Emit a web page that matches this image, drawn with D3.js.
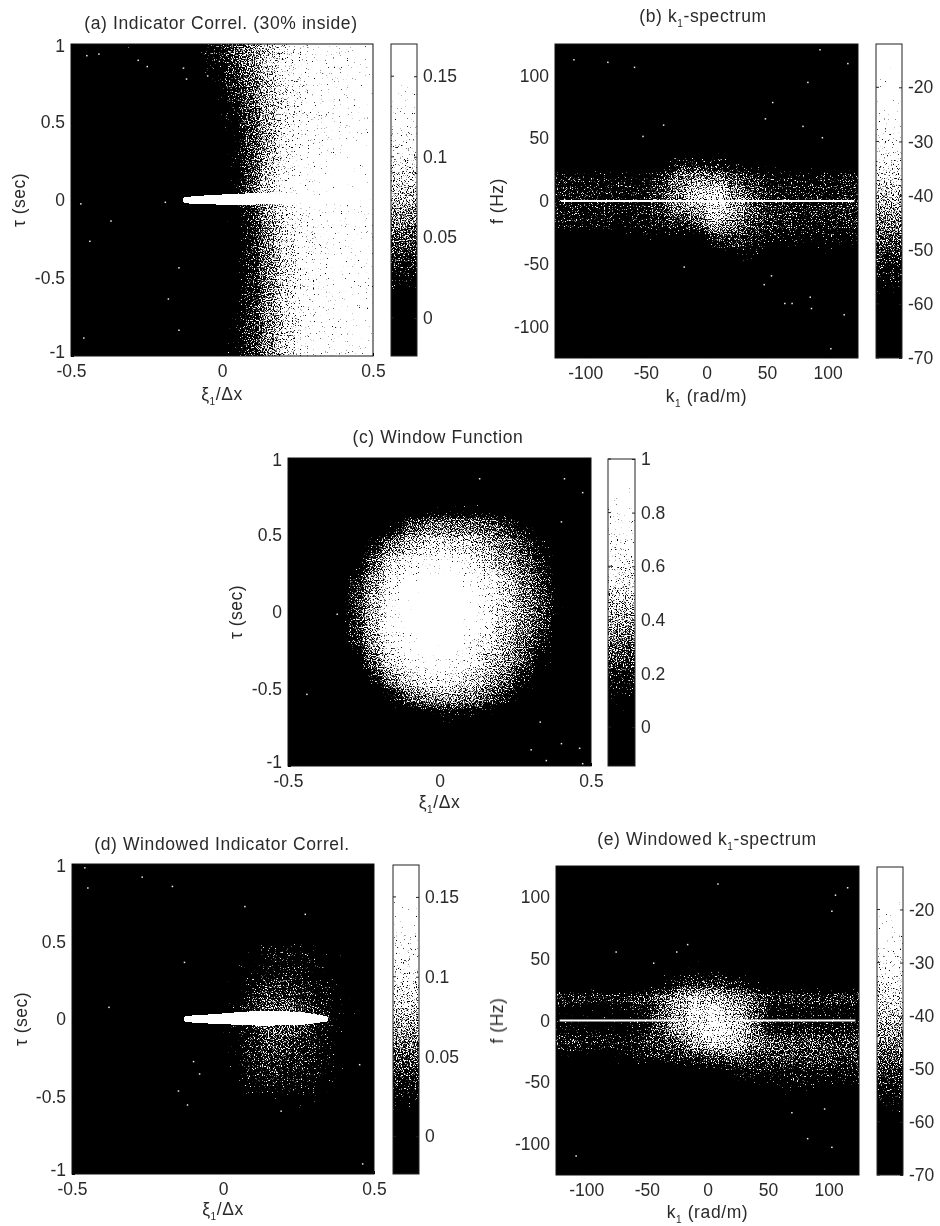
<!DOCTYPE html>
<html>
<head>
<meta charset="utf-8">
<script src="https://cdn.jsdelivr.net/npm/d3@7"></script>
<style>
  html, body { margin: 0; background: #fff; }
  text { font-family: "Liberation Sans", Arial, sans-serif; fill: #2a2a2a; }
  .screen { mix-blend-mode: screen; }
</style>
</head>
<body>
<svg id="fig" width="940" height="1226"></svg>
<script>
// axis ticks
const xiTicks = [-0.5, 0, 0.5]
const tauTicks = [-1, -0.5, 0, 0.5, 1]
const kTicks = [-100, -50, 0, 50, 100]
const fTicks = [-100, -50, 0, 50, 100]
const corrBarTicks = [0, 0.05, 0.1, 0.15]
const specBarTicks = [-70, -60, -50, -40, -30, -20]
const winBarTicks = [0, 0.2, 0.4, 0.6, 0.8, 1]

// cell centres
const xiCols = [-0.469, -0.406, -0.344, -0.281, -0.219, -0.156, -0.094, -0.031, 0.031, 0.094, 0.156, 0.219, 0.281, 0.344, 0.406, 0.469]
const tauRows = [0.94, 0.81, 0.69, 0.56, 0.44, 0.31, 0.19, 0.06, -0.06, -0.19, -0.31, -0.44, -0.56, -0.69, -0.81, -0.94]
const kCols = [-117, -102, -86, -70, -55, -39, -23, -8, 8, 23, 39, 55, 70, 86, 102, 117]
const fRows = [119, 106, 94, 81, 69, 56, 44, 31, 19, 6, -6, -19, -31, -44, -56, -69, -81, -94, -106, -119]

// (a) indicator correlation, one row per tauRows
const corrA = [
  [.012, .012, .008, .012, .010, .012, .014, .026, .046, .062, .080, .098, .118, .125, .130, .140],
  [.006, .006, .006, .008, .006, .010, .012, .020, .040, .058, .078, .100, .118, .125, .130, .135],
  [.002, .002, .002, .002, .002, .006, .008, .013, .032, .052, .076, .096, .112, .125, .130, .135],
  [.000, .000, .000, .000, .000, .002, .004, .008, .024, .048, .072, .094, .112, .125, .130, .135],
  [.000, .000, .000, .000, .000, .000, .000, .003, .018, .045, .070, .098, .116, .125, .130, .135],
  [.000, .000, .000, .000, .000, .000, .000, .002, .016, .044, .070, .098, .116, .128, .135, .140],
  [.000, .000, .000, .000, .000, .000, .000, .000, .016, .045, .075, .104, .122, .135, .140, .145],
  [.000, .000, .000, .000, .000, .000, .000, .002, .018, .052, .085, .115, .132, .145, .150, .150],
  [.000, .000, .000, .000, .000, .000, .000, .000, .014, .040, .066, .094, .116, .130, .135, .140],
  [.000, .000, .000, .000, .000, .000, .000, .000, .010, .035, .062, .092, .112, .125, .130, .135],
  [.000, .000, .000, .000, .000, .000, .000, .000, .010, .034, .062, .088, .112, .125, .130, .135],
  [.000, .000, .000, .000, .000, .000, .000, .000, .012, .034, .060, .088, .112, .125, .130, .135],
  [.000, .000, .000, .000, .000, .000, .000, .000, .014, .034, .060, .088, .112, .125, .130, .135],
  [.000, .000, .000, .000, .000, .000, .000, .002, .016, .036, .062, .088, .112, .125, .130, .135],
  [.002, .000, .000, .000, .000, .000, .000, .002, .018, .038, .062, .088, .112, .125, .130, .135],
  [.004, .002, .000, .000, .000, .000, .002, .005, .020, .040, .062, .088, .112, .125, .130, .135]
]

// (b) spectrum in dB, one row per fRows
const specB = [
  [-70, -70, -70, -70, -70, -70, -70, -70, -70, -70, -70, -70, -70, -70, -70, -68],
  [-70, -70, -70, -70, -70, -70, -70, -70, -70, -70, -70, -70, -70, -70, -70, -68],
  [-70, -70, -70, -70, -70, -70, -70, -70, -70, -70, -70, -70, -70, -70, -70, -70],
  [-70, -70, -70, -70, -70, -70, -70, -70, -70, -70, -70, -70, -70, -70, -70, -70],
  [-70, -70, -70, -70, -70, -70, -70, -70, -70, -70, -70, -70, -70, -70, -70, -70],
  [-70, -70, -70, -70, -70, -70, -70, -70, -70, -70, -70, -70, -70, -70, -70, -70],
  [-70, -70, -70, -70, -70, -68, -68, -66, -66, -68, -68, -68, -70, -70, -70, -70],
  [-66, -66, -66, -66, -65, -59, -54, -53, -54, -57, -59, -60, -62, -62, -62, -62],
  [-53, -54, -54, -55, -55, -51, -46, -43, -45, -49, -51, -54, -54, -54, -53, -52],
  [-52, -53, -53, -54, -54, -50, -45, -38, -36, -44, -49, -53, -53, -53, -53, -52],
  [-53, -53, -53, -54, -54, -50, -45, -42, -36, -42, -48, -52, -52, -52, -52, -52],
  [-54, -54, -55, -56, -55, -53, -51, -48, -41, -45, -49, -52, -52, -53, -53, -52],
  [-62, -62, -63, -62, -58, -58, -60, -58, -52, -50, -53, -55, -56, -56, -56, -56],
  [-70, -70, -70, -70, -66, -66, -64, -62, -60, -57, -57, -59, -60, -59, -60, -59],
  [-70, -70, -70, -70, -70, -70, -70, -68, -64, -62, -61, -61, -62, -62, -63, -62],
  [-70, -70, -70, -70, -70, -70, -70, -70, -70, -68, -66, -62, -62, -63, -65, -65],
  [-70, -70, -70, -70, -70, -70, -70, -70, -70, -70, -70, -70, -62, -61, -62, -64],
  [-70, -70, -70, -70, -70, -70, -70, -70, -70, -70, -70, -70, -68, -64, -64, -64],
  [-70, -70, -70, -70, -70, -70, -70, -70, -70, -70, -70, -70, -70, -70, -66, -66],
  [-70, -70, -70, -70, -70, -70, -70, -70, -70, -70, -70, -70, -70, -70, -70, -70]
]

// (c) window function, one row per tauRows
const windowC = [
  [0, 0, 0, 0, 0, 0, 0, 0, 0, 0, 0, 0, 0, 0, 0, 0],
  [0, 0, 0, 0, 0, 0, 0, 0, 0, 0, 0, 0, 0, 0, 0, 0],
  [0, 0, 0, 0, 0, 0, 0, .08, .10, .10, .08, .05, 0, 0, 0, 0],
  [0, 0, 0, 0, 0, .12, .28, .34, .34, .33, .30, .24, .14, .03, 0, 0],
  [0, 0, 0, 0, .18, .34, .45, .50, .50, .47, .40, .34, .26, .12, .02, 0],
  [0, 0, 0, .10, .30, .50, .62, .70, .70, .64, .50, .38, .30, .20, .03, 0],
  [0, 0, 0, .20, .38, .60, .80, .90, .90, .75, .58, .46, .34, .25, .07, 0],
  [0, 0, 0, .24, .42, .65, .90, 1, 1, .85, .62, .48, .36, .27, .08, 0],
  [0, 0, 0, .24, .42, .70, .90, 1, 1, .82, .60, .46, .34, .25, .08, 0],
  [0, 0, 0, .20, .40, .62, .82, .90, .88, .72, .54, .42, .32, .20, .06, 0],
  [0, 0, 0, .10, .32, .50, .66, .75, .74, .62, .48, .38, .28, .12, .05, 0],
  [0, 0, 0, 0, .20, .38, .50, .56, .56, .50, .40, .32, .18, .05, .02, 0],
  [0, 0, 0, 0, 0, .15, .30, .38, .38, .36, .30, .20, .06, .02, 0, 0],
  [0, 0, 0, 0, 0, 0, .04, .10, .12, .10, .08, .05, .02, 0, 0, 0],
  [0, 0, 0, 0, 0, 0, 0, 0, 0, 0, 0, 0, 0, 0, 0, 0],
  [0, 0, 0, 0, 0, 0, 0, 0, 0, 0, 0, 0, 0, 0, 0, 0]
]

// (d) windowed correlation, one row per tauRows
const corrD = [
  [0, 0, 0, 0, 0, 0, 0, 0, 0, 0, 0, 0, 0, 0, 0, 0],
  [0, 0, 0, 0, 0, 0, 0, 0, 0, 0, 0, 0, 0, 0, 0, 0],
  [0, 0, 0, 0, 0, 0, 0, 0, 0, 0, 0, 0, 0, 0, 0, 0],
  [0, 0, 0, 0, 0, 0, 0, 0, 0, .006, .010, .008, .006, 0, 0, 0],
  [0, 0, 0, 0, 0, 0, 0, 0, .012, .018, .026, .026, .024, .016, .014, 0],
  [0, 0, 0, 0, 0, 0, 0, 0, .014, .022, .028, .028, .026, .020, .016, .006],
  [0, 0, 0, 0, 0, 0, 0, 0, .014, .032, .042, .040, .034, .024, .016, .006],
  [0, 0, 0, 0, 0, 0, 0, .006, .020, .038, .050, .050, .042, .028, .016, .008],
  [0, 0, 0, 0, 0, 0, 0, .006, .020, .035, .050, .050, .040, .026, .016, .008],
  [0, 0, 0, 0, 0, 0, 0, .004, .018, .036, .045, .042, .036, .026, .016, .006],
  [0, 0, 0, 0, 0, 0, 0, 0, .016, .034, .040, .038, .032, .024, .016, .006],
  [0, 0, 0, 0, 0, 0, 0, 0, .012, .026, .028, .028, .024, .018, .012, 0],
  [0, 0, 0, 0, 0, 0, 0, 0, 0, .012, .014, .016, .014, .012, 0, 0],
  [0, 0, 0, 0, 0, 0, 0, 0, 0, 0, 0, 0, 0, 0, 0, 0],
  [0, 0, 0, 0, 0, 0, 0, 0, 0, 0, 0, 0, 0, 0, 0, 0],
  [0, 0, 0, 0, 0, 0, 0, 0, 0, 0, 0, 0, 0, 0, 0, 0]
]

// (e) windowed spectrum in dB, one row per fRows
const specE = [
  [-70, -70, -70, -70, -70, -70, -70, -70, -70, -70, -70, -70, -70, -70, -70, -70],
  [-70, -70, -70, -70, -70, -70, -70, -70, -70, -70, -70, -70, -70, -70, -70, -70],
  [-70, -70, -70, -70, -70, -70, -70, -70, -70, -70, -70, -70, -70, -70, -70, -70],
  [-70, -70, -70, -70, -70, -70, -70, -70, -70, -70, -70, -70, -70, -70, -70, -70],
  [-70, -70, -70, -70, -70, -70, -70, -68, -68, -70, -70, -70, -70, -70, -70, -70],
  [-70, -70, -70, -70, -70, -68, -66, -64, -66, -68, -70, -70, -70, -70, -70, -70],
  [-70, -70, -70, -70, -68, -66, -60, -58, -58, -60, -66, -68, -68, -70, -70, -70],
  [-68, -68, -68, -68, -64, -58, -54, -51, -51, -54, -58, -60, -62, -64, -64, -62],
  [-51, -51, -51, -51, -50, -47, -42, -39, -41, -44, -47, -51, -51, -50, -50, -49],
  [-58, -58, -58, -58, -55, -48, -41, -36, -34, -40, -47, -56, -56, -56, -56, -56],
  [-56, -56, -57, -57, -55, -48, -42, -36, -34, -37, -45, -54, -54, -54, -54, -54],
  [-52, -52, -53, -53, -52, -50, -47, -41, -37, -40, -44, -47, -48, -48, -49, -49],
  [-58, -58, -60, -58, -55, -53, -53, -51, -50, -48, -50, -50, -50, -50, -50, -51],
  [-70, -70, -70, -70, -64, -62, -60, -60, -58, -56, -55, -55, -54, -55, -55, -55],
  [-70, -70, -70, -70, -70, -70, -70, -68, -66, -62, -60, -58, -57, -57, -58, -58],
  [-70, -70, -70, -70, -70, -70, -70, -70, -70, -68, -66, -60, -60, -60, -61, -62],
  [-70, -70, -70, -70, -70, -70, -70, -70, -70, -70, -68, -64, -62, -60, -62, -62],
  [-70, -70, -70, -70, -70, -70, -70, -70, -70, -70, -70, -70, -68, -64, -62, -64],
  [-70, -70, -70, -70, -70, -70, -70, -70, -70, -70, -70, -70, -70, -66, -64, -66],
  [-70, -70, -70, -70, -70, -70, -70, -70, -70, -70, -70, -70, -70, -70, -70, -70]
]

// the bright ridge along tau = 0 in (a) and (d): xi, upper tau, lower tau
const ridgeA = [[-0.12, 0.003, -0.003], [-0.08, 0.010, -0.010], [-0.04, 0.014, -0.012], [0, 0.019, -0.014], [0.05, 0.024, -0.015], [0.1, 0.028, -0.014], [0.15, 0.028, -0.010], [0.2, 0.024, -0.006], [0.3, 0.016, -0.003], [0.4, 0.008, 0]]
const ridgeD = [[-0.12, 0.004, -0.004], [-0.08, 0.010, -0.010], [-0.04, 0.015, -0.014], [0, 0.020, -0.017], [0.05, 0.027, -0.021], [0.1, 0.034, -0.025], [0.15, 0.036, -0.027], [0.2, 0.034, -0.026], [0.25, 0.030, -0.022], [0.29, 0.020, -0.014], [0.32, 0.010, -0.006], [0.34, 0.002, -0.002]]

// white line at f = 0 in (b) and (e), as k from / k to
const lineB = [[-120, 122]]
const lineE = [[-122, -20], [24, 122]]

// single stray dots
const straysA = [[-.45, .93], [-.41, .94], [-.28, .90], [-.25, .86], [-.13, .85], [-.12, .78], [-.05, .8], [-.47, -.02], [-.37, -.13], [-.44, -.26], [-.145, -.43], [-.18, -.63], [-.145, -.83], [-.46, -.88], [-.19, -.01]]
const straysB = [[-110, 113], [-82, 111], [-60, 107], [93, 121], [116, 110], [83, 95], [54, 79], [48, 66], [-36, 61], [-53, 52], [79, 60], [95, 51], [-19, -52], [47, -66], [53, -59], [64, -81], [70, -81], [86, -85], [85, -76], [102, -117], [113, -90]]
const straysC = [[.13, .87], [.41, .87], [.47, .78], [-.44, -.53], [-.34, -.01], [.30, -.89], [.40, -.85], [.46, -.88], [.47, -.98], [.35, -.96], [.33, -.71], [.40, .59]]
const straysD = [[-.38, .08], [-.46, .98], [-.27, .92], [-.17, .86], [.07, .73], [.27, .68], [-.13, .37], [-.10, -.27], [-.15, -.46], [-.12, -.55], [.19, -.59], [.46, -.93], [-.08, -.35], [.45, -.29], [-.45, .85]]
const straysE = [[8, 111], [115, 108], [105, 102], [102, 89], [-17, 62], [-76, 56], [-45, 47], [-26, 56], [-109, -109], [82, -95], [102, -102], [69, -74], [96, -71]]


const svg = d3.select('#fig')
const defs = svg.append('defs')

// a scan is never quite sharp
defs.append('filter').attr('id', 'soft')
    .append('feGaussianBlur').attr('stdDeviation', 0.35)

// turns a gray picture into black and white specks, like the scanned print
function halftone(id, blur, seed, w, h) {
    const f = defs.append('filter').attr('id', id)
        .attr('filterUnits', 'userSpaceOnUse')
        .attr('x', 0).attr('y', 0).attr('width', w).attr('height', h)
        .attr('color-interpolation-filters', 'sRGB')
    f.append('feGaussianBlur').attr('in', 'SourceGraphic').attr('stdDeviation', blur).attr('result', 'b')
    f.append('feColorMatrix').attr('in', 'b').attr('type', 'matrix')
        .attr('values', '1 0 0 0 0  0 1 0 0 0  0 0 1 0 0  0 0 0 0 1').attr('result', 'soft')
    f.append('feTurbulence').attr('type', 'fractalNoise').attr('baseFrequency', 0.85)
        .attr('numOctaves', 2).attr('seed', seed).attr('result', 't')
    f.append('feColorMatrix').attr('in', 't').attr('type', 'matrix')
        .attr('values', '1 0 0 0 0  1 0 0 0 0  1 0 0 0 0  0 0 0 0 1').attr('result', 'noise')
    f.append('feComposite').attr('in', 'soft').attr('in2', 'noise').attr('operator', 'arithmetic')
        .attr('k1', 0).attr('k2', 1).attr('k3', 1).attr('k4', -1).attr('result', 'sum')
    const ct = f.append('feComponentTransfer').attr('in', 'sum')
    for (const ch of ['feFuncR', 'feFuncG', 'feFuncB'])
        ct.append(ch).attr('type', 'linear').attr('slope', 9)
}

// how much of the ink comes out white at each share of the colour bar
const inkCurve = d3.scaleLinear()
    .domain([0, 0.12, 0.18, 0.25, 0.38, 0.5, 0.65, 0.85, 1])
    .range([0, 0.03, 0.16, 0.34, 0.5, 0.62, 0.76, 0.86, 1]).clamp(true)

function panel(o) {
    const g = svg.append('g').attr('transform', `translate(${o.left},${o.top})`)
    const w = o.width, h = o.height

    const x = d3.scaleLinear().domain(o.xDomain).range([0, w])
    const y = d3.scaleLinear().domain(o.yDomain).range([h, 0])
    const colX = d3.scaleBand().domain(o.cols).range([0, w])
    const rowY = d3.scaleBand().domain(o.rows).range([0, h])
    const color = d3.scaleLinear().domain(o.barDomain).range([0, 1])
    const gray = v => { let c = Math.round(255 * inkCurve(color(v))); return `rgb(${c},${c},${c})` }

    halftone(o.id + 'f', 4, o.seed, w, h)
    halftone(o.id + 'r', 1, o.seed + 1, w, h)
    halftone(o.id + 'c', 1.5, o.seed + 2, o.barWidth, o.barHeight)

    g.append('rect').attr('width', w).attr('height', h).attr('fill', '#000')

    const cells = o.values.flatMap((row, i) => row.map((v, j) => ({ r: o.rows[i], c: o.cols[j], v })))
    g.append('g').attr('filter', `url(#${o.id}f)`)
        .selectAll('rect').data(cells).join('rect')
        .attr('x', d => colX(d.c)).attr('y', d => rowY(d.r))
        .attr('width', colX.bandwidth() + 0.5).attr('height', rowY.bandwidth() + 0.5)
        .attr('fill', d => gray(d.v))

    if (o.ridge) {
        const area = d3.area().x(d => x(d[0])).y0(d => y(d[2])).y1(d => y(d[1])).curve(d3.curveMonotoneX)
        g.append('g').attr('class', 'screen').attr('filter', `url(#${o.id}r)`)
            .append('path').attr('d', area(o.ridge)).attr('fill', '#fff')
    }
    if (o.line) {
        g.selectAll('.zero').data(o.line).join('line').attr('class', 'zero')
            .attr('x1', d => x(d[0])).attr('x2', d => x(d[1]))
            .attr('y1', y(0)).attr('y2', y(0))
            .attr('stroke', '#fff').attr('stroke-width', 1.8)
    }
    g.selectAll('.stray').data(o.strays).join('rect').attr('class', 'stray')
        .attr('x', d => x(d[0])).attr('y', d => y(d[1]))
        .attr('width', 1.5).attr('height', 1.5).attr('fill', '#eee')

    g.append('rect').attr('width', w).attr('height', h).attr('fill', 'none').attr('stroke', '#111')

    // axes
    const ax = g.append('g').attr('transform', `translate(0,${h})`)
        .call(d3.axisBottom(x).tickValues(o.xTicks).tickFormat(d => d).tickSize(-3).tickPadding(8.5))
    const ay = g.append('g')
        .call(d3.axisLeft(y).tickValues(o.yTicks).tickFormat(d => d).tickSize(-3).tickPadding(6))
    for (const a of [ax, ay]) {
        a.select('.domain').remove()
        a.selectAll('line').attr('stroke', '#000')
        a.selectAll('text').attr('font-size', 17.5).attr('font-family', null)
    }
    // the first and last labels of the tau axis sit a little inside the frame
    ay.selectAll('text').attr('y', d => d === o.yDomain[0] ? -4 : d === o.yDomain[1] ? 2 : 0)

    // colour bar
    const bar = svg.append('g').attr('transform', `translate(${o.barLeft},${o.barTop})`)
    const bh = o.barHeight, bw = o.barWidth
    const by = d3.scaleLinear().domain(o.barDomain).range([bh, 0])
    const steps = d3.range(0, bh, 2).map(p => by.invert(p + 1))
    bar.append('g').attr('filter', `url(#${o.id}c)`)
        .selectAll('rect').data(steps).join('rect')
        .attr('x', 0).attr('width', bw)
        .attr('y', d => by(d) - 1).attr('height', 2.5)
        .attr('fill', d => gray(d))
    bar.append('rect').attr('width', bw).attr('height', bh).attr('fill', 'none').attr('stroke', '#222')
    bar.selectAll('.lt').data(o.barTicks).join('line').attr('class', 'lt')
        .attr('x2', 3).attr('y1', d => by(d)).attr('y2', d => by(d)).attr('stroke', '#222')
    const ab = bar.append('g').attr('transform', `translate(${bw},0)`)
        .call(d3.axisRight(by).tickValues(o.barTicks).tickFormat(d => d).tickSize(-3).tickPadding(6))
    ab.select('.domain').remove()
    ab.selectAll('line').attr('stroke', '#222')
    ab.selectAll('text').attr('font-size', 17.5).attr('font-family', null)

    // titles and labels
    const title = label(o.titleX, o.titleY)
    addParts(title, o.titleParts)
    const xl = label(o.left + w / 2, o.xLabelY)
    addParts(xl, o.xLabelParts)
    svg.append('text').attr('transform', `translate(${o.yLabelX},${o.top + h / 2}) rotate(-90)`)
        .attr('text-anchor', 'middle').attr('font-size', 17.5).attr('letter-spacing', 0.5).text(o.yLabel)
}

function label(px, py) {
    return svg.append('text').attr('x', px).attr('y', py)
        .attr('text-anchor', 'middle').attr('font-size', 17.5).attr('letter-spacing', 0.6)
}

// plain strings stay on the baseline, {sub} goes below it
function addParts(t, parts) {
    let shift = 0
    parts.forEach(p => {
        if (typeof p === 'string') {
            t.append('tspan').attr('dy', shift).text(p)
            shift = 0
        } else {
            t.append('tspan').attr('dy', 5).attr('font-size', 10).text(p.sub)
            shift = -5
        }
    })
}

const xiLabel = ['\u03be', { sub: '1' }, '/\u0394x']
const kLabel = ['k', { sub: '1' }, ' (rad/m)']

panel({ id: 'a', seed: 3, left: 71, top: 44, width: 302, height: 312,
    xDomain: [-0.5, 0.5], yDomain: [-1, 1], xTicks: xiTicks, yTicks: tauTicks,
    cols: xiCols, rows: tauRows, values: corrA, ridge: ridgeA, strays: straysA,
    barLeft: 391, barTop: 44, barWidth: 26, barHeight: 312, barDomain: [-0.0236, 0.17], barTicks: corrBarTicks,
    titleX: 221, titleY: 29, titleParts: ['(a) Indicator Correl. (30% inside)'],
    xLabelY: 400, xLabelParts: xiLabel, yLabelX: 25, yLabel: '\u03c4 (sec)' })

panel({ id: 'b', seed: 11, left: 555, top: 44, width: 303, height: 314,
    xDomain: [-125, 125], yDomain: [-125, 125], xTicks: kTicks, yTicks: fTicks,
    cols: kCols, rows: fRows, values: specB, line: lineB, strays: straysB,
    barLeft: 876, barTop: 44, barWidth: 26, barHeight: 314, barDomain: [-70, -12], barTicks: specBarTicks,
    titleX: 703, titleY: 22, titleParts: ['(b) k', { sub: '1' }, '-spectrum'],
    xLabelY: 402, xLabelParts: kLabel, yLabelX: 503, yLabel: 'f (Hz)' })

panel({ id: 'c', seed: 21, left: 288, top: 458, width: 303, height: 308,
    xDomain: [-0.5, 0.5], yDomain: [-1, 1], xTicks: xiTicks, yTicks: tauTicks,
    cols: xiCols, rows: tauRows, values: windowC, strays: straysC,
    barLeft: 608, barTop: 459, barWidth: 27, barHeight: 307, barDomain: [-0.145, 1], barTicks: winBarTicks,
    titleX: 438, titleY: 443, titleParts: ['(c) Window Function'],
    xLabelY: 808, xLabelParts: xiLabel, yLabelX: 242, yLabel: '\u03c4 (sec)' })

panel({ id: 'd', seed: 31, left: 72, top: 864, width: 302, height: 310,
    xDomain: [-0.5, 0.5], yDomain: [-1, 1], xTicks: xiTicks, yTicks: tauTicks,
    cols: xiCols, rows: tauRows, values: corrD, ridge: ridgeD, strays: straysD,
    barLeft: 393, barTop: 865, barWidth: 26, barHeight: 309, barDomain: [-0.0236, 0.17], barTicks: corrBarTicks,
    titleX: 222, titleY: 850, titleParts: ['(d) Windowed Indicator Correl.'],
    xLabelY: 1215, xLabelParts: xiLabel, yLabelX: 27, yLabel: '\u03c4 (sec)' })

panel({ id: 'e', seed: 41, left: 556, top: 866, width: 303, height: 309,
    xDomain: [-125, 125], yDomain: [-125, 125], xTicks: kTicks, yTicks: fTicks,
    cols: kCols, rows: fRows, values: specE, line: lineE, strays: straysE,
    barLeft: 877, barTop: 867, barWidth: 26, barHeight: 308, barDomain: [-70, -12], barTicks: specBarTicks,
    titleX: 707, titleY: 845, titleParts: ['(e) Windowed k', { sub: '1' }, '-spectrum'],
    xLabelY: 1218, xLabelParts: kLabel, yLabelX: 503, yLabel: 'f (Hz)' })

svg.selectAll('text').attr('filter', 'url(#soft)')
</script>
</body>
</html>
